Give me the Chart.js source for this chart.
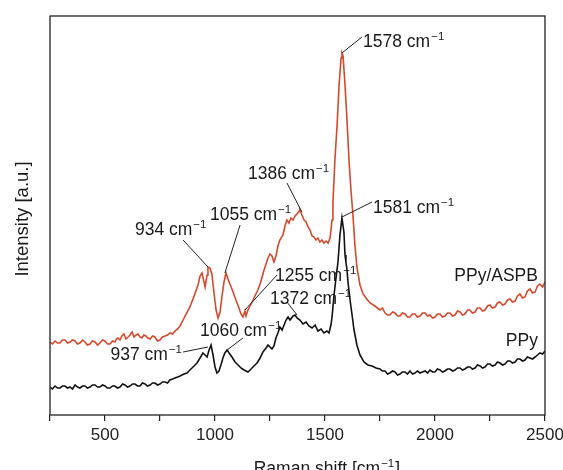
<!DOCTYPE html>
<html>
<head>
<meta charset="utf-8">
<script src="https://cdn.jsdelivr.net/npm/chart.js@4"></script>
<style>
  html, body { margin: 0; padding: 0; background: #fff; }
  #wrap { width: 563px; height: 470px; }
</style>
</head>
<body>
<div id="wrap"><canvas id="raman-chart" width="563" height="470"></canvas></div>
<script>
// Raman shift (cm-1) and intensity (a.u.)
const aspbShift = [250,261,273,284,295,307,318,330,341,352,364,375,386,398,409,420,432,443,455,466,477,489,500,511,523,534,545,552,559,568,577,586,595,605,614,623,632,641,650,659,668,677,686,695,705,716,727,739,750,761,773,784,795,807,818,830,841,855,864,
  886,905,923,932,941,950,955,964,968,977,986,995,1005,1014,1023,1032,1041,1050,1059,1068,1082,1095,1109,1118,1127,1136,1141,1150,1159,1173,1186,1195,
  1205,1214,1223,1232,1241,1250,1259,1268,1277,1286,1295,1309,1318,1327,1336,1345,1355,1364,1373,1382,1386,1395,1405,1414,1423,1432,1441,1450,1459,
  1468,1477,1486,1495,1505,1514,1523,1532,1536,1545,1555,1564,1573,1577,1582,1591,1600,1609,1618,1627,1636,1645,1659,1673,1686,1705,1727,
  1750,1761,1773,1784,1795,1807,1818,1830,1841,1852,1864,1875,1886,1898,1909,1920,1932,1943,1955,1966,1977,1989,2000,2011,2023,2034,2045,2057,
  2068,2080,2091,2102,2114,2125,2136,2148,2159,2170,2182,2193,2205,2216,2227,2239,2250,2261,2273,2284,2295,2307,2318,2330,2341,2352,2364,2375,
  2386,2398,2409,2420,2432,2443,2455,2466,2477,2489,2500];
const aspbInt = [73,71,74,72,72,75,75,72,73,75,74,71,72,75,73,70,71,74,73,70,72,75,74,71,71,74,73,76,77,75,79,81,76,78,80,83,78,80,81,78,77,80,79,77,76,79,78,74,75,78,79,80,82,81,84,86,89,95,99,
  108,119,130,139,142,133,128,140,148,147,141,123,105,97,103,119,133,142,136,131,123,115,107,101,98,104,99,105,109,115,121,125,
  131,138,145,151,157,161,159,153,159,169,175,180,189,195,192,197,195,199,201,204,205,200,195,193,188,185,179,178,175,
  177,173,175,172,174,172,177,195,212,255,290,330,357,362,359,330,295,255,225,200,170,148,130,121,117,112,109,
  105,107,102,100,100,103,102,99,99,102,101,98,98,101,101,98,99,102,102,99,100,97,98,101,101,98,99,102,
  102,99,100,104,103,100,101,105,105,102,103,107,107,104,105,109,110,107,108,112,113,110,111,115,116,113,114,119,
  121,117,118,124,126,122,123,129,131,128,133];

const ppyShift = [250,261,273,284,295,307,318,330,341,352,364,375,386,398,409,420,432,443,455,466,477,489,500,511,523,534,545,557,568,580,591,602,614,625,636,648,659,670,682,693,705,716,727,739,750,761,773,784,795,807,818,830,841,859,873,
  886,905,918,932,945,955,964,973,982,991,1000,1009,1018,1027,1036,1045,1055,1064,1077,1091,1105,1118,1132,1150,1164,1177,1191,
  1205,1218,1232,1241,1250,1259,1268,1277,1286,1295,1305,1314,1323,1332,1341,1355,1364,1373,1386,1400,1414,1427,1441,1455,1468,1482,1495,
  1509,1518,1527,1532,1541,1550,1559,1568,1577,1586,1591,1595,1600,1605,1614,1623,1632,1645,1659,1677,1695,1714,1732,
  1750,1761,1773,1784,1795,1807,1818,1830,1841,1852,1864,1875,1886,1898,1909,1920,1932,1943,1955,1966,1977,1989,2000,2011,2023,2034,2045,2057,
  2068,2080,2091,2102,2114,2125,2136,2148,2159,2170,2182,2193,2205,2216,2227,2239,2250,2261,2273,2284,2295,2307,2318,2330,2341,2352,2364,2375,
  2386,2398,2409,2420,2432,2443,2455,2466,2477,2489,2500];
const ppyInt = [28,26,29,27,27,29,29,27,28,26,30,28,27,29,29,27,28,30,30,28,28,30,29,27,27,29,29,27,28,31,30,28,29,31,31,29,29,32,31,29,30,32,32,30,31,33,33,32,35,36,37,38,39,41,42,
  45,49,52,57,62,60,58,65,70,60,48,42,44,50,57,62,65,62,58,53,50,47,45,43,46,49,52,
  57,63,67,70,68,66,69,77,82,88,85,90,95,98,95,99,100,97,95,91,93,89,87,90,84,86,82,
  84,82,90,98,120,137,153,180,197,183,160,153,145,132,115,100,85,70,60,53,50,49,47,
  46,44,44,41,42,44,43,40,41,43,43,41,44,41,42,44,42,43,44,42,45,43,43,46,45,43,44,46,
  46,44,45,47,47,45,46,48,48,46,47,50,49,47,48,51,51,49,50,53,52,50,51,54,54,52,53,56,
  56,54,55,58,57,56,58,60,62,61,64];

const xTicks = [500, 1000, 1500, 2000, 2500];

// peak labels: leader line from a point on the curve to the text
const notes = [
  { text: '1578 cm', sup: '\u22121', at: [1577, 362], to: [1668, 378], pos: [1673, 374], align: 'left' },
  { text: '1386 cm', sup: '\u22121', at: [1395, 203], to: [1327, 232], pos: [1150, 242], align: 'left' },
  { text: '1055 cm', sup: '\u22121', at: [1045, 142], to: [1114, 190], pos: [977, 201], align: 'left' },
  { text: '934 cm', sup: '\u22121', at: [968, 148], to: [855, 175], pos: [636, 186], align: 'left' },
  { text: '1255 cm', sup: '\u22121', at: [1136, 105], to: [1282, 140], pos: [1273, 140], align: 'left' },
  { text: '1372 cm', sup: '\u22121', at: [1373, 100], to: [1327, 113], pos: [1250, 117], align: 'left' },
  { text: '1581 cm', sup: '\u22121', at: [1577, 198], to: [1714, 213], pos: [1718, 208], align: 'left' },
  { text: '1060 cm', sup: '\u22121', at: [1055, 65], to: [1127, 77], pos: [932, 85], align: 'left' },
  { text: '937 cm', sup: '\u22121', at: [968, 68], to: [855, 63], pos: [850, 61], align: 'right' },
  { text: 'PPy/ASPB', sup: '', pos: [2468, 140], align: 'right' },
  { text: 'PPy', sup: '', pos: [2468, 75], align: 'right' }
];

const FONT = '"Liberation Sans", Arial, Helvetica, sans-serif';

function supText(ctx, x, y, main, sup, align) {
  ctx.font = '17.5px ' + FONT;
  const w1 = ctx.measureText(main).width;
  ctx.font = '11.5px ' + FONT;
  const w2 = sup ? ctx.measureText(sup).width + 1 : 0;
  let start = x;
  if (align === 'right') start = x - w1 - w2;
  if (align === 'center') start = x - (w1 + w2) / 2;
  ctx.textAlign = 'left';
  ctx.textBaseline = 'alphabetic';
  ctx.font = '17.5px ' + FONT;
  ctx.fillText(main, start, y + 6);
  if (sup) {
    ctx.font = '11.5px ' + FONT;
    ctx.fillText(sup, start + w1 + 1, y - 1);
  }
}

const overlay = {
  id: 'overlay',
  afterDatasetsDraw(chart) {
    const { ctx, chartArea: a, scales: { x, y } } = chart;
    ctx.save();
    ctx.strokeStyle = '#222';
    ctx.lineWidth = 1.3;
    ctx.strokeRect(a.left, a.top, a.right - a.left, a.bottom - a.top);

    ctx.fillStyle = '#1a1a1a';
    ctx.lineWidth = 1;
    notes.forEach(n => {
      if (n.at) {
        ctx.beginPath();
        ctx.moveTo(x.getPixelForValue(n.at[0]), y.getPixelForValue(n.at[1]));
        ctx.lineTo(x.getPixelForValue(n.to[0]), y.getPixelForValue(n.to[1]));
        ctx.stroke();
      }
      supText(ctx, x.getPixelForValue(n.pos[0]), y.getPixelForValue(n.pos[1]), n.text, n.sup, n.align);
    });

    // axis titles
    supText(ctx, 324, 468, 'Raman shift [cm', '\u22121', 'center');
    ctx.font = '17.5px ' + FONT;
    const w = ctx.measureText('Raman shift [cm').width;
    ctx.font = '11.5px ' + FONT;
    const ws = ctx.measureText('\u22121').width + 1;
    ctx.font = '17.5px ' + FONT;
    ctx.fillText(']', 324 - (w + ws) / 2 + w + ws + 1, 474);

    ctx.translate(23, 219);
    ctx.rotate(-Math.PI / 2);
    ctx.font = '18.5px ' + FONT;
    ctx.textAlign = 'center';
    ctx.textBaseline = 'middle';
    ctx.fillText('Intensity [a.u.]', 0, 0);
    ctx.restore();
  }
};

const toPoints = (xs, ys) => xs.map((v, i) => ({ x: v, y: ys[i] }));

new Chart(document.getElementById('raman-chart'), {
  type: 'line',
  data: {
    datasets: [{
      label: 'PPy/ASPB',
      data: toPoints(aspbShift, aspbInt),
      borderColor: '#d4492c',
      borderWidth: 1.6,
      pointRadius: 0,
      tension: 0
    }, {
      label: 'PPy',
      data: toPoints(ppyShift, ppyInt),
      borderColor: '#111111',
      borderWidth: 1.6,
      pointRadius: 0,
      tension: 0
    }]
  },
  options: {
    responsive: false,
    animation: false,
    layout: { padding: { left: 50, right: 18, top: 16, bottom: 0 } },
    plugins: { legend: { display: false }, tooltip: { enabled: false } },
    scales: {
      x: {
        type: 'linear',
        min: 250,
        max: 2500,
        afterFit: s => { s.height = 55; s.paddingLeft = 0; s.paddingRight = 0; },
        ticks: {
          stepSize: 250,
          autoSkip: false,
          maxRotation: 0,
          padding: 4,
          color: '#222',
          font: { family: FONT, size: 17 },
          callback: v => xTicks.includes(v) ? String(v) : ''
        },
        grid: { drawOnChartArea: false, tickLength: 6, color: '#222', lineWidth: 1.2 },
        border: { display: false }
      },
      y: {
        display: false,
        min: 0,
        max: 399
      }
    }
  },
  plugins: [overlay]
});
</script>
</body>
</html>
